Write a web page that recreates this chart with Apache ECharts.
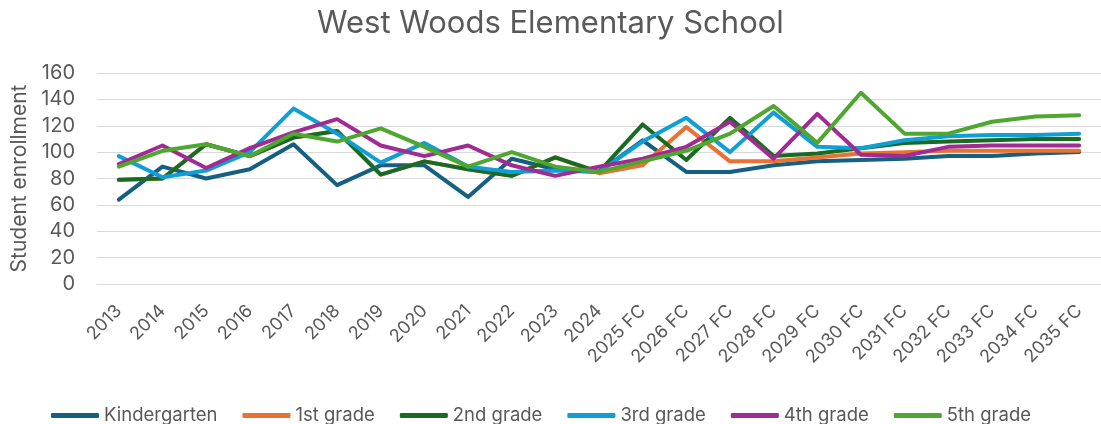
<!DOCTYPE html>
<html>
<head>
<meta charset="utf-8">
<script src="https://cdn.jsdelivr.net/npm/echarts@6/dist/echarts.min.js"></script>
<style>
  html, body { margin: 0; padding: 0; background: #fff; }
  #chart { width: 1101px; height: 424px; }
</style>
</head>
<body>
<div id="chart"></div>
<script>
// enrollment by school year, FC = forecast
var years = ['2013', '2014', '2015', '2016', '2017', '2018', '2019', '2020', '2021', '2022', '2023', '2024',
  '2025 FC', '2026 FC', '2027 FC', '2028 FC', '2029 FC', '2030 FC', '2031 FC', '2032 FC', '2033 FC', '2034 FC', '2035 FC'];

var kindergarten = [64, 89, 80, 87, 106, 75, 90, 90, 66, 95, 87, 85, 109, 85, 85, 90, 93, 94, 95, 97, 97, 99, 100];
var grade1 = [79, 80, 106, 97, 111, 116, 83, 93, 87, 82, 96, 84, 90, 119, 93, 93, 96, 99, 100, 101, 101, 101, 101];
var grade2 = [79, 80, 106, 97, 111, 116, 83, 93, 87, 82, 96, 85, 121, 94, 126, 97, 99, 103, 107, 108, 109, 110, 110];
var grade3 = [97, 81, 86, 100, 133, 114, 92, 107, 89, 85, 86, 85, 108, 126, 100, 130, 104, 103, 109, 112, 113, 113, 114];
var grade4 = [91, 105, 88, 103, 115, 125, 105, 97, 105, 90, 82, 89, 95, 104, 123, 95, 129, 98, 97, 104, 105, 105, 105];
var grade5 = [89, 101, 106, 97, 114, 108, 118, 104, 89, 100, 89, 85, 93, 101, 114, 135, 107, 145, 114, 114, 123, 127, 128];

var seriesNames = ['Kindergarten', '1st grade', '2nd grade', '3rd grade', '4th grade', '5th grade'];
var seriesData = [kindergarten, grade1, grade2, grade3, grade4, grade5];
var colors = ['#156082', '#E97132', '#196B24', '#0F9ED5', '#A02B93', '#4EA72E'];

var font = 'Inter';
var chart = echarts.init(document.getElementById('chart'));

var option = {
  color: colors,
  animation: false,
  title: {
    text: 'West Woods Elementary School',
    left: 312,
    top: 3,
    textStyle: { fontFamily: font, fontSize: 31, fontWeight: 'normal', color: '#595959' }
  },
  legend: {
    top: 401,
    left: 46,
    icon: 'roundRect',
    itemWidth: 48,
    itemHeight: 5,
    itemGap: 25,
    data: seriesNames,
    textStyle: { fontFamily: font, fontSize: 18.5, color: '#595959' }
  },
  grid: { left: 97, width: 1013, top: 73, height: 211, containLabel: false },
  xAxis: {
    type: 'category',
    data: years,
    boundaryGap: true,
    axisLine: { lineStyle: { color: '#d9d9d9' } },
    axisTick: { show: false },
    axisLabel: { rotate: 45, margin: 24, interval: 0, fontFamily: font, fontSize: 18, color: '#595959' }
  },
  yAxis: {
    type: 'value',
    min: 0,
    max: 160,
    interval: 20,
    name: 'Student enrollment',
    nameLocation: 'middle',
    nameGap: 66,
    nameTextStyle: { fontFamily: font, fontSize: 21, color: '#595959' },
    axisLine: { show: false },
    axisTick: { show: false },
    splitLine: { lineStyle: { color: '#d9d9d9', width: 1 } },
    axisLabel: { margin: 22, fontFamily: font, fontSize: 20, color: '#595959' }
  },
  series: seriesNames.map(function (name, i) {
    return {
      name: name,
      type: 'line',
      data: seriesData[i],
      showSymbol: false,
      symbol: 'none',
      lineStyle: { width: 4, cap: 'round', join: 'round' }
    };
  })
};

chart.setOption(option);
</script>
</body>
</html>
